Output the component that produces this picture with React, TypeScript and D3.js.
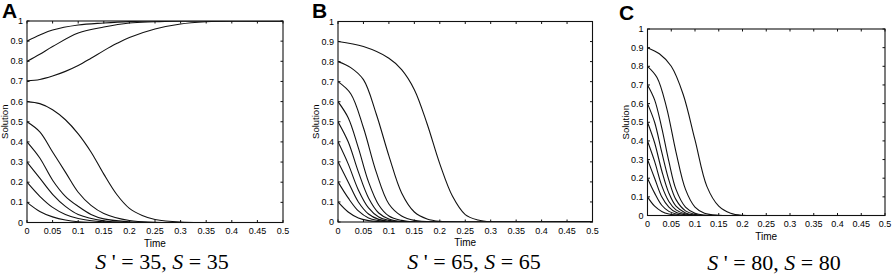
import React from "react";
import * as d3 from "d3";

type Pt = [number, number];

const xTicks = [0, 0.05, 0.1, 0.15, 0.2, 0.25, 0.3, 0.35, 0.4, 0.45, 0.5];
const xTickLabels = ["0", "0.05", "0.1", "0.15", "0.2", "0.25", "0.3", "0.35", "0.4", "0.45", "0.5"];
const yTicks = [0, 0.1, 0.2, 0.3, 0.4, 0.5, 0.6, 0.7, 0.8, 0.9, 1];
const yTickLabels = ["0", "0.1", "0.2", "0.3", "0.4", "0.5", "0.6", "0.7", "0.8", "0.9", "1"];

const panelLetters = ["A", "B", "C"];
const captionValues = ["35", "65", "80"];

// Panel A (S' = 35, S = 35)
const a09: Pt[] = [[0, 0.9], [0.025, 0.93], [0.05, 0.955], [0.1, 0.98], [0.15, 0.99], [0.2, 0.997], [0.25, 1], [0.5, 1]];
const a08: Pt[] = [[0, 0.8], [0.025, 0.835], [0.05, 0.873], [0.1, 0.94], [0.15, 0.97], [0.2, 0.99], [0.25, 0.996], [0.3, 1], [0.5, 1]];
const a07: Pt[] = [[0, 0.703], [0.025, 0.71], [0.05, 0.727], [0.075, 0.75], [0.1, 0.779], [0.125, 0.815], [0.15, 0.853], [0.175, 0.888], [0.2, 0.918], [0.25, 0.96], [0.3, 0.985], [0.35, 0.996], [0.4, 1], [0.5, 1]];
const a06: Pt[] = [[0, 0.6], [0.025, 0.59], [0.05, 0.56], [0.075, 0.51], [0.1, 0.44], [0.125, 0.35], [0.15, 0.24], [0.175, 0.14], [0.2, 0.07], [0.225, 0.035], [0.25, 0.015], [0.3, 0.002], [0.5, 0]];
const a05: Pt[] = [[0, 0.5], [0.025, 0.45], [0.05, 0.35], [0.075, 0.25], [0.1, 0.15], [0.125, 0.085], [0.15, 0.045], [0.2, 0.01], [0.25, 0.001], [0.5, 0]];
const a04: Pt[] = [[0, 0.4], [0.025, 0.32], [0.05, 0.21], [0.075, 0.13], [0.1, 0.08], [0.125, 0.04], [0.15, 0.018], [0.2, 0.003], [0.25, 0], [0.5, 0]];
const a03: Pt[] = [[0, 0.3], [0.025, 0.22], [0.05, 0.14], [0.075, 0.08], [0.1, 0.04], [0.15, 0.008], [0.2, 0], [0.5, 0]];
const a02: Pt[] = [[0, 0.2], [0.025, 0.13], [0.05, 0.075], [0.075, 0.04], [0.1, 0.02], [0.15, 0.003], [0.2, 0], [0.5, 0]];
const a01: Pt[] = [[0, 0.1], [0.025, 0.055], [0.05, 0.028], [0.075, 0.012], [0.1, 0.004], [0.15, 0], [0.5, 0]];

// Panel B (S' = 65, S = 65)
const b09: Pt[] = [[0, 0.9], [0.05, 0.875], [0.1, 0.817], [0.125, 0.76], [0.15, 0.66], [0.175, 0.49], [0.2, 0.29], [0.225, 0.128], [0.25, 0.037], [0.275, 0.01], [0.3, 0.001], [0.5, 0]];
const b08: Pt[] = [[0, 0.8], [0.025, 0.77], [0.05, 0.71], [0.075, 0.54], [0.1, 0.33], [0.125, 0.145], [0.15, 0.05], [0.175, 0.015], [0.2, 0.003], [0.25, 0], [0.5, 0]];
const b07: Pt[] = [[0, 0.7], [0.025, 0.64], [0.05, 0.47], [0.075, 0.25], [0.1, 0.09], [0.125, 0.03], [0.15, 0.008], [0.2, 0], [0.5, 0]];
const b06: Pt[] = [[0, 0.6], [0.02, 0.52], [0.04, 0.37], [0.06, 0.2], [0.08, 0.085], [0.1, 0.03], [0.125, 0.008], [0.15, 0], [0.5, 0]];
const b05: Pt[] = [[0, 0.5], [0.02, 0.4], [0.04, 0.25], [0.06, 0.12], [0.08, 0.045], [0.1, 0.015], [0.125, 0.002], [0.15, 0], [0.5, 0]];
const b04: Pt[] = [[0, 0.4], [0.02, 0.29], [0.04, 0.16], [0.06, 0.07], [0.08, 0.025], [0.1, 0.008], [0.125, 0], [0.5, 0]];
const b03: Pt[] = [[0, 0.3], [0.02, 0.2], [0.04, 0.1], [0.06, 0.04], [0.08, 0.013], [0.1, 0.004], [0.125, 0], [0.5, 0]];
const b02: Pt[] = [[0, 0.2], [0.02, 0.12], [0.04, 0.055], [0.06, 0.02], [0.08, 0.007], [0.1, 0], [0.5, 0]];
const b01: Pt[] = [[0, 0.1], [0.02, 0.05], [0.04, 0.02], [0.06, 0.007], [0.08, 0.002], [0.1, 0], [0.5, 0]];

// Panel C (S' = 80, S = 80)
const c09: Pt[] = [[0, 0.9], [0.025, 0.867], [0.05, 0.8], [0.075, 0.65], [0.1, 0.405], [0.125, 0.156], [0.15, 0.05], [0.175, 0.012], [0.2, 0.001], [0.25, 0], [0.5, 0]];
const c08: Pt[] = [[0, 0.8], [0.02, 0.74], [0.04, 0.58], [0.06, 0.34], [0.08, 0.14], [0.1, 0.045], [0.12, 0.012], [0.15, 0.001], [0.2, 0], [0.5, 0]];
const c07: Pt[] = [[0, 0.7], [0.015, 0.62], [0.03, 0.47], [0.045, 0.29], [0.06, 0.14], [0.08, 0.045], [0.1, 0.012], [0.12, 0.002], [0.15, 0], [0.5, 0]];
const c06: Pt[] = [[0, 0.6], [0.015, 0.5], [0.03, 0.34], [0.045, 0.19], [0.06, 0.085], [0.08, 0.025], [0.1, 0.006], [0.12, 0], [0.5, 0]];
const c05: Pt[] = [[0, 0.5], [0.015, 0.39], [0.03, 0.24], [0.045, 0.12], [0.06, 0.05], [0.08, 0.014], [0.1, 0.002], [0.12, 0], [0.5, 0]];
const c04: Pt[] = [[0, 0.4], [0.015, 0.29], [0.03, 0.16], [0.045, 0.075], [0.06, 0.03], [0.08, 0.008], [0.1, 0], [0.5, 0]];
const c03: Pt[] = [[0, 0.3], [0.015, 0.2], [0.03, 0.1], [0.045, 0.045], [0.06, 0.017], [0.08, 0.004], [0.1, 0], [0.5, 0]];
const c02: Pt[] = [[0, 0.2], [0.015, 0.12], [0.03, 0.055], [0.045, 0.022], [0.06, 0.008], [0.08, 0], [0.5, 0]];
const c01: Pt[] = [[0, 0.1], [0.015, 0.05], [0.03, 0.022], [0.045, 0.008], [0.06, 0.003], [0.08, 0], [0.5, 0]];

const panelCurves: Pt[][][] = [
  [a09, a08, a07, a06, a05, a04, a03, a02, a01],
  [b09, b08, b07, b06, b05, b04, b03, b02, b01],
  [c09, c08, c07, c06, c05, c04, c03, c02, c01],
];

type Layout = { left: number; right: number; top: number; bottom: number; letterX: number; letterY: number; capX: number; capY: number };
const layouts: Layout[] = [
  { left: 27, right: 283, top: 21, bottom: 222.5, letterX: 2, letterY: 18, capX: 162, capY: 269 },
  { left: 338, right: 592.5, top: 21.5, bottom: 222, letterX: 312, letterY: 18, capX: 474, capY: 269 },
  { left: 647.5, right: 885, top: 29, bottom: 215.5, letterX: 619, letterY: 20, capX: 774, capY: 270 },
];

const sans = "'Liberation Sans', Arial, sans-serif";
const serif = "'Liberation Serif', 'Times New Roman', serif";

function Panel({ idx }: { idx: number }) {
  const L = layouts[idx];
  const x = d3.scaleLinear().domain([0, 0.5]).range([L.left, L.right]);
  const y = d3.scaleLinear().domain([0, 1]).range([L.bottom, L.top]);
  const line = d3
    .line<Pt>()
    .x((d) => x(d[0]))
    .y((d) => y(d[1]))
    .curve(d3.curveCatmullRom.alpha(0.5));
  const tl = 2.5;
  const midX = (L.left + L.right) / 2;
  const midY = (L.top + L.bottom) / 2;
  const clipId = "clip" + idx;
  return (
    <g>
      <defs>
        <clipPath id={clipId}>
          <rect x={L.left} y={L.top} width={L.right - L.left} height={L.bottom - L.top} />
        </clipPath>
      </defs>
      <g clipPath={`url(#${clipId})`}>
        {panelCurves[idx].map((c, i) => (
          <path key={i} d={line(c) || ""} fill="none" stroke="#111" strokeWidth={1.1} />
        ))}
      </g>
      <rect x={L.left} y={L.top} width={L.right - L.left} height={L.bottom - L.top} fill="none" stroke="#111" strokeWidth={1.1} />
      {xTicks.map((t, i) => (
        <g key={"x" + i}>
          <line x1={x(t)} x2={x(t)} y1={L.bottom} y2={L.bottom - tl} stroke="#111" />
          <line x1={x(t)} x2={x(t)} y1={L.top} y2={L.top + tl} stroke="#111" />
          <text x={x(t)} y={L.bottom + 11.5} textAnchor="middle" fontFamily={sans} fontSize={9} fill="#000">
            {xTickLabels[i]}
          </text>
        </g>
      ))}
      {yTicks.map((t, i) => (
        <g key={"y" + i}>
          <line x1={L.left} x2={L.left + tl} y1={y(t)} y2={y(t)} stroke="#111" />
          <line x1={L.right} x2={L.right - tl} y1={y(t)} y2={y(t)} stroke="#111" />
          <text x={L.left - 4} y={y(t) + 3} textAnchor="end" fontFamily={sans} fontSize={9} fill="#000">
            {yTickLabels[i]}
          </text>
        </g>
      ))}
      <text x={midX} y={L.bottom + 24} textAnchor="middle" fontFamily={sans} fontSize={10} fill="#000">
        Time
      </text>
      <text
        transform={`translate(${L.left - 19},${midY}) rotate(-90)`}
        textAnchor="middle"
        fontFamily={sans}
        fontSize={9.5}
        fill="#000"
      >
        Solution
      </text>
      <text x={L.letterX} y={L.letterY} fontFamily={sans} fontWeight="bold" fontSize={21} fill="#000">
        {panelLetters[idx]}
      </text>
      <text x={L.capX} y={L.capY} textAnchor="middle" fontFamily={serif} fontSize={22} fill="#000">
        <tspan fontStyle="italic">S</tspan>
        {" ' = " + captionValues[idx] + ", "}
        <tspan fontStyle="italic">S</tspan>
        {" = " + captionValues[idx]}
      </text>
    </g>
  );
}

export default function App() {
  return (
    <svg
      width={892}
      height={275}
      viewBox="0 0 892 275"
      style={{ position: "absolute", left: 0, top: 0, background: "#fff" }}
    >
      <rect x={0} y={0} width={892} height={275} fill="#fff" />
      {[0, 1, 2].map((i) => (
        <Panel key={i} idx={i} />
      ))}
    </svg>
  );
}
